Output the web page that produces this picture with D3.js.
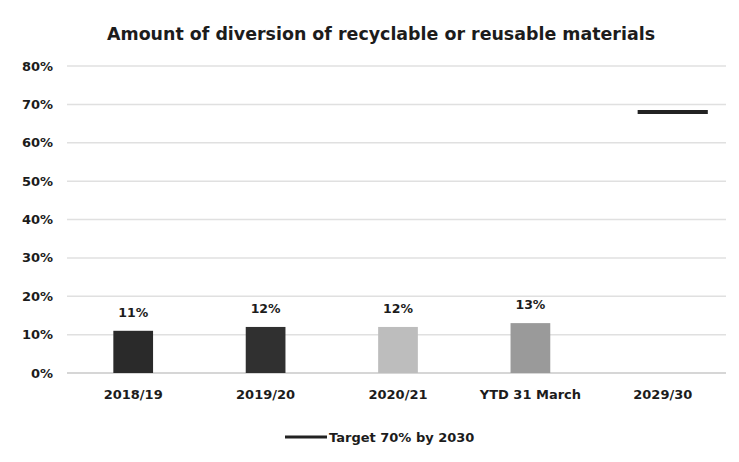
<!DOCTYPE html>
<html>
<head>
<meta charset="utf-8">
<script src="https://cdn.jsdelivr.net/npm/d3@7"></script>
<style>
  body { margin: 0; background: #fff; }
  text { font-family: "DejaVu Sans", sans-serif; font-weight: bold; fill: #1c1c1c; }
</style>
</head>
<body>
<svg id="chart" width="739" height="462"></svg>
<script>
// chart data
var categories = ["2018/19", "2019/20", "2020/21", "YTD 31 March", "2029/30"];
var values = [11, 12, 12, 13, null];
var barColors = ["#2a2a2a", "#303030", "#bdbdbd", "#9a9a9a", "#fff"];
var targetCategory = "2029/30";
var targetValue = 68;
var yTicks = [0, 10, 20, 30, 40, 50, 60, 70, 80];
var title = "Amount of diversion of recyclable or reusable materials";
var legendLabel = "Target 70% by 2030";

var svg = d3.select("#chart");

var margin = { top: 66, right: 10, bottom: 89, left: 67 };
var width = 739, height = 462;

var x = d3.scaleBand()
    .domain(categories)
    .range([margin.left, width - margin.right])
    .paddingInner(0.7)
    .paddingOuter(0.35);

var y = d3.scaleLinear()
    .domain([0, 80])
    .range([height - margin.bottom, margin.top]);

// gridlines
svg.append("g")
    .selectAll("line")
    .data(yTicks)
    .enter()
    .append("line")
    .attr("x1", margin.left)
    .attr("x2", width - margin.right - 3)
    .attr("y1", function (d) { return y(d) })
    .attr("y2", function (d) { return y(d) })
    .attr("stroke", function (d) { return d === 0 ? "#c8c8c8" : "#e0e0e0" })
    .attr("stroke-width", 1.5);

// y axis labels
svg.append("g")
    .selectAll("text")
    .data(yTicks)
    .enter()
    .append("text")
    .attr("x", 53)
    .attr("y", function (d) { return y(d) })
    .attr("dy", "0.35em")
    .attr("text-anchor", "end")
    .style("font-size", "13px")
    .text(function (d) { return d + "%" });

// bars
var barData = categories.map(function (c, i) { return { cat: c, v: values[i], color: barColors[i] } })
    .filter(function (d) { return d.v != null });

svg.append("g")
    .selectAll("rect")
    .data(barData)
    .enter()
    .append("rect")
    .attr("x", function (d) { return x(d.cat) })
    .attr("y", function (d) { return y(d.v) })
    .attr("width", x.bandwidth())
    .attr("height", function (d) { return y(0) - y(d.v) })
    .attr("fill", function (d) { return d.color });

// value labels
svg.append("g")
    .selectAll("text")
    .data(barData)
    .enter()
    .append("text")
    .attr("x", function (d) { return x(d.cat) + x.bandwidth() / 2 })
    .attr("y", function (d) { return y(d.v) - 14 })
    .attr("text-anchor", "middle")
    .style("font-size", "12.5px")
    .text(function (d) { return d.v + "%" });

// target line
var tCenter = x(targetCategory) + x.bandwidth() / 2;
var step = x.step();
svg.append("line")
    .attr("x1", tCenter - step * 0.19)
    .attr("x2", tCenter + step * 0.34)
    .attr("y1", y(targetValue))
    .attr("y2", y(targetValue))
    .attr("stroke", "#222")
    .attr("stroke-width", 4);

// x axis labels
svg.append("g")
    .selectAll("text")
    .data(categories)
    .enter()
    .append("text")
    .attr("x", function (d) { return x(d) + x.bandwidth() / 2 })
    .attr("y", 399)
    .attr("text-anchor", "middle")
    .style("font-size", "13px")
    .text(function (d) { return d });

// title
svg.append("text")
    .attr("x", 381)
    .attr("y", 40)
    .attr("text-anchor", "middle")
    .style("font-size", "18px")
    .attr("textLength", 548)
    .attr("lengthAdjust", "spacingAndGlyphs")
    .text(title);

// legend
svg.append("line")
    .attr("x1", 285)
    .attr("x2", 327)
    .attr("y1", 437)
    .attr("y2", 437)
    .attr("stroke", "#222")
    .attr("stroke-width", 3);

svg.append("text")
    .attr("x", 329)
    .attr("y", 437)
    .attr("dy", "0.35em")
    .style("font-size", "13px")
    .text(legendLabel);
</script>
</body>
</html>
